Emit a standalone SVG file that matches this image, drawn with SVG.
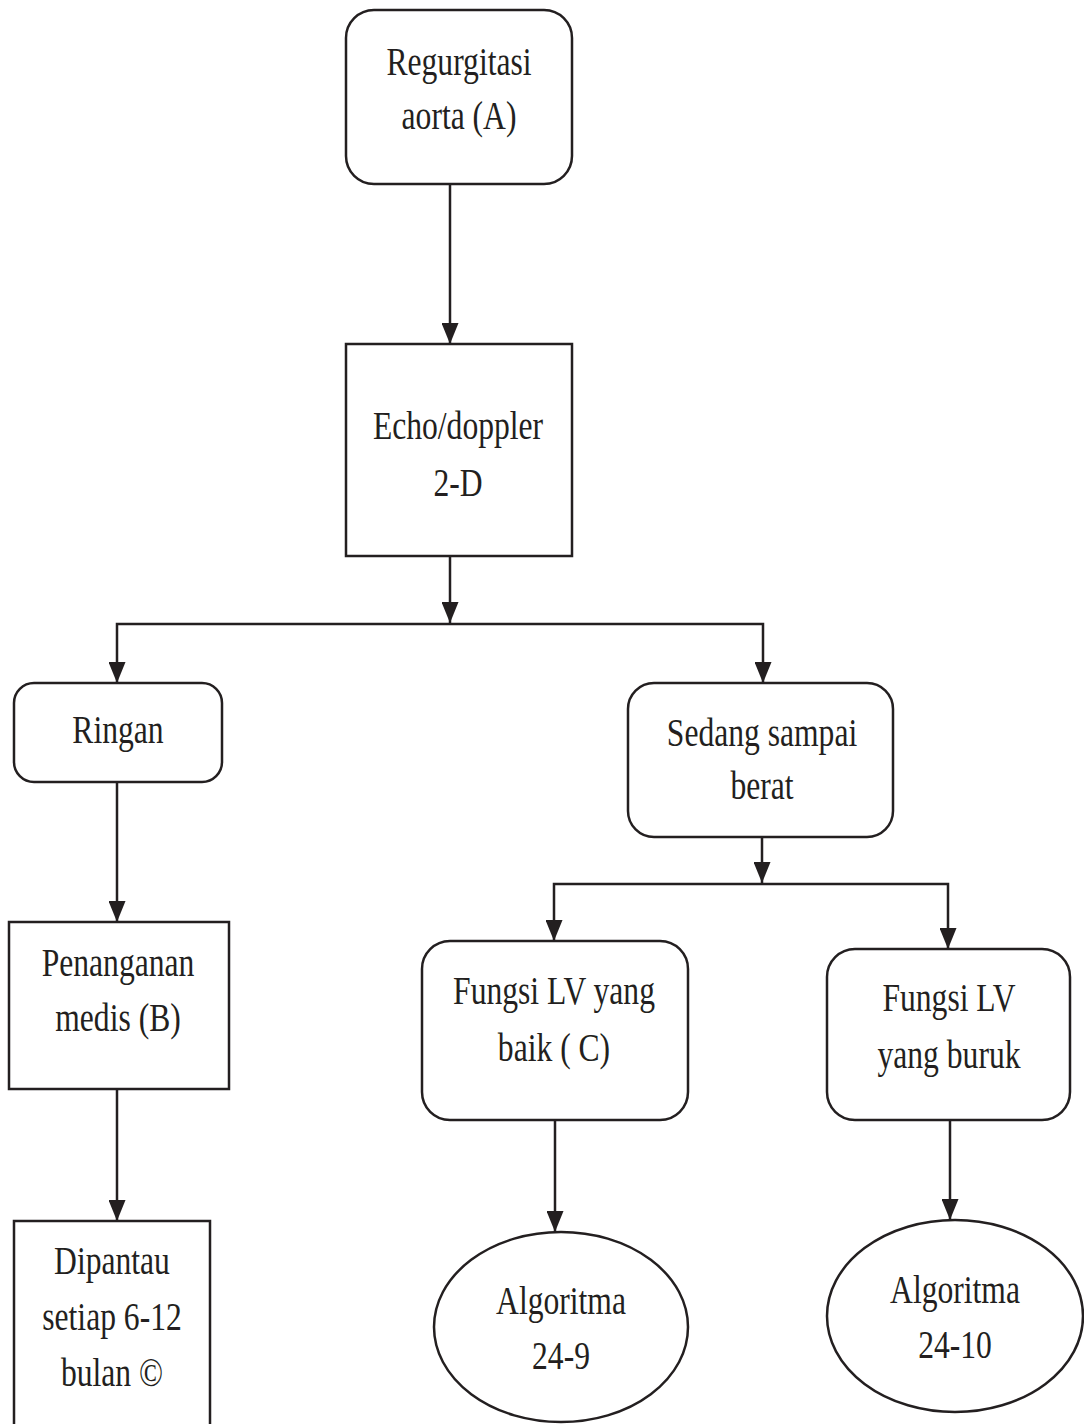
<svg xmlns="http://www.w3.org/2000/svg" width="1084" height="1424" viewBox="0 0 1084 1424">
<style>
.box{fill:#fff;stroke:#231f20;stroke-width:2.5}
.ln{fill:none;stroke:#231f20;stroke-width:2.5}
.t{font-family:"Liberation Serif","Times New Roman",serif;font-size:40px;fill:#231f20;text-anchor:middle}
</style>
<defs>
<marker id="ah" markerUnits="userSpaceOnUse" markerWidth="21" markerHeight="17" refX="21" refY="8.5" orient="auto" viewBox="0 0 21 17">
<path d="M0,0 L21,8.5 L0,17 z" fill="#231f20"/>
</marker>
</defs>
<rect width="1084" height="1424" fill="#fff"/>
<g id="connectors">
<path class="ln" d="M450,185 V344" marker-end="url(#ah)"/>
<path class="ln" d="M450,556 V623" marker-end="url(#ah)"/>
<path class="ln" d="M450,624 H117 V683" marker-end="url(#ah)"/>
<path class="ln" d="M450,624 H763 V683" marker-end="url(#ah)"/>
<path class="ln" d="M117,782 V922" marker-end="url(#ah)"/>
<path class="ln" d="M117,1089 V1221" marker-end="url(#ah)"/>
<path class="ln" d="M762,837 V883" marker-end="url(#ah)"/>
<path class="ln" d="M762,884 H554 V941" marker-end="url(#ah)"/>
<path class="ln" d="M762,884 H948 V949" marker-end="url(#ah)"/>
<path class="ln" d="M555,1120 V1232" marker-end="url(#ah)"/>
<path class="ln" d="M950,1120 V1220" marker-end="url(#ah)"/>
</g>
<g id="n1">
<rect class="box" x="346" y="10" width="226" height="174" rx="28"/>
<text class="t" transform="translate(459,75) scale(0.79,1)">Regurgitasi</text>
<text class="t" transform="translate(459,129) scale(0.79,1)">aorta (A)</text>
</g>
<g id="n2">
<rect class="box" x="346" y="344" width="226" height="212"/>
<text class="t" transform="translate(458,439) scale(0.79,1)">Echo/doppler</text>
<text class="t" transform="translate(458,496) scale(0.79,1)">2-D</text>
</g>
<g id="n3">
<rect class="box" x="14" y="683" width="208" height="99" rx="20"/>
<text class="t" transform="translate(118,743) scale(0.79,1)">Ringan</text>
</g>
<g id="n4">
<rect class="box" x="628" y="683" width="265" height="154" rx="26"/>
<text class="t" transform="translate(762,746) scale(0.79,1)">Sedang sampai</text>
<text class="t" transform="translate(762,799) scale(0.79,1)">berat</text>
</g>
<g id="n5">
<rect class="box" x="9" y="922" width="220" height="167"/>
<text class="t" transform="translate(118,976) scale(0.79,1)">Penanganan</text>
<text class="t" transform="translate(118,1031) scale(0.79,1)">medis (B)</text>
</g>
<g id="n6">
<rect class="box" x="14" y="1221" width="196" height="230"/>
<text class="t" transform="translate(112,1274) scale(0.79,1)">Dipantau</text>
<text class="t" transform="translate(112,1330) scale(0.79,1)">setiap 6-12</text>
<text class="t" transform="translate(112,1386) scale(0.79,1)">bulan ©</text>
</g>
<g id="n7">
<rect class="box" x="422" y="941" width="266" height="179" rx="28"/>
<text class="t" transform="translate(554,1004) scale(0.79,1)">Fungsi LV yang</text>
<text class="t" transform="translate(554,1061) scale(0.79,1)">baik ( C)</text>
</g>
<g id="n8">
<rect class="box" x="827" y="949" width="243" height="171" rx="28"/>
<text class="t" transform="translate(949,1011) scale(0.79,1)">Fungsi LV</text>
<text class="t" transform="translate(949,1068) scale(0.79,1)">yang buruk</text>
</g>
<g id="n9">
<ellipse class="box" cx="561" cy="1327" rx="127" ry="95"/>
<text class="t" transform="translate(561,1314) scale(0.79,1)">Algoritma</text>
<text class="t" transform="translate(561,1369) scale(0.79,1)">24-9</text>
</g>
<g id="n10">
<ellipse class="box" cx="955" cy="1316" rx="128" ry="96"/>
<text class="t" transform="translate(955,1303) scale(0.79,1)">Algoritma</text>
<text class="t" transform="translate(955,1358) scale(0.79,1)">24-10</text>
</g>
</svg>
